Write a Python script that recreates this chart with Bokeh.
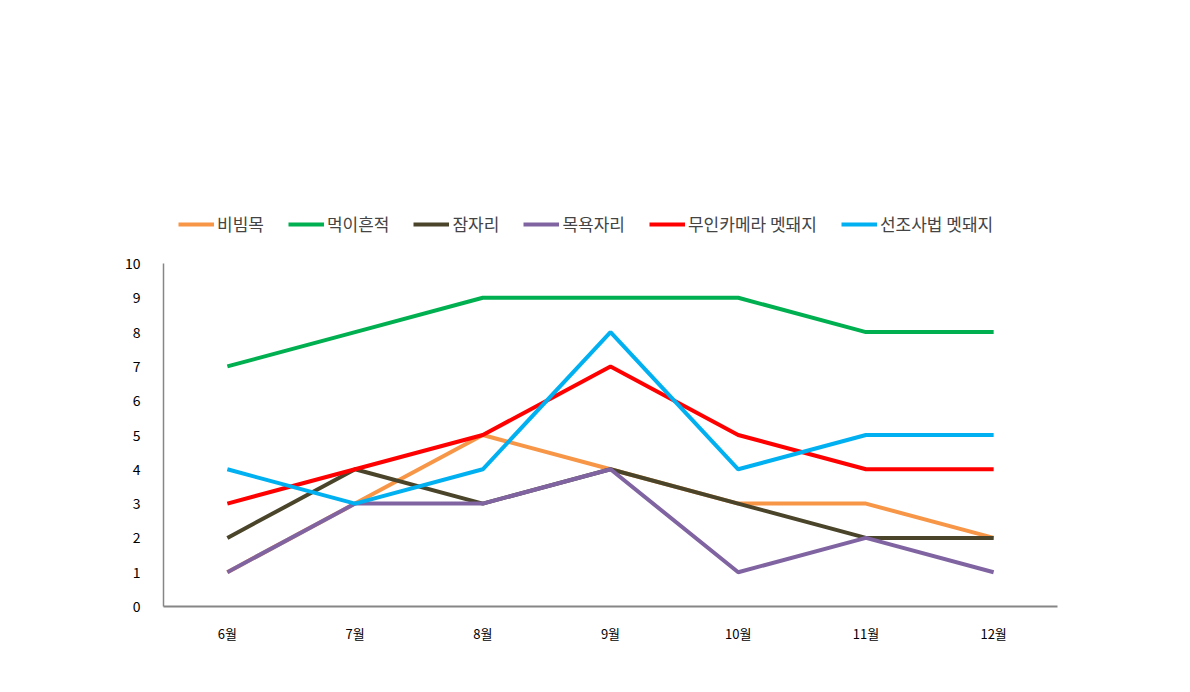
from bokeh.plotting import figure
from bokeh.models import Legend, LegendItem, FixedTicker, FactorRange, Range1d
from bokeh.embed import file_html
from bokeh.resources import INLINE

months = ["6월", "7월", "8월", "9월", "10월", "11월", "12월"]
series_names = ["비빔목", "먹이흔적", "잠자리", "목욕자리", "무인카메라 멧돼지", "선조사법 멧돼지"]
bibimmok = [1, 3, 5, 4, 3, 3, 2]
meogi = [7, 8, 9, 9, 9, 8, 8]
jamjari = [2, 4, 3, 4, 3, 2, 2]
mogyok = [1, 3, 3, 4, 1, 2, 1]
camera = [3, 4, 5, 7, 5, 4, 4]
seonjo = [4, 3, 4, 8, 4, 5, 5]
colors = ["#F79646", "#00B050", "#4A452A", "#8064A2", "#FF0000", "#00B0F0"]
y_ticks = list(range(0, 11))

W, H = 1174, 676
frame_top, frame_bottom = 190, 606   # screen pixels
axis_top = 263                       # where the value 10 sits
y_max = 10
y_end = y_max * (frame_bottom - frame_top) / (frame_bottom - axis_top)

p = figure(width=W, height=H, x_range=FactorRange(*months), y_range=Range1d(0, y_end),
           output_backend="svg", toolbar_location=None,
           min_border_left=163, min_border_right=W - 1057,
           min_border_top=frame_top, min_border_bottom=H - frame_bottom)
p.outline_line_color = None
p.xgrid.visible = False
p.ygrid.visible = False

font = "Noto Sans CJK KR"
p.yaxis.ticker = FixedTicker(ticks=y_ticks)
p.yaxis.bounds = (0, y_max)
p.yaxis.major_tick_line_color = None
p.yaxis.minor_tick_line_color = None
p.yaxis.axis_line_color = "#868686"
p.yaxis.axis_line_width = 1.5
p.yaxis.major_label_text_font = font
p.yaxis.major_label_text_font_size = "14px"
p.yaxis.major_label_text_color = "#000000"
p.yaxis.major_label_standoff = 17

p.xaxis.major_tick_line_color = None
p.xaxis.axis_line_color = "#868686"
p.xaxis.axis_line_width = 2
p.xaxis.major_label_text_font = font
p.xaxis.major_label_text_font_size = "13px"
p.xaxis.major_label_text_color = "#000000"
p.xaxis.major_label_standoff = 11

all_series = [bibimmok, meogi, jamjari, mogyok, camera, seonjo]
renderers = {}
for i in range(6):
    r = p.line(months, all_series[i], line_color=colors[i], line_width=4)
    renderers[i] = r

items = [LegendItem(label=series_names[i], renderers=[renderers[i]]) for i in range(6)]
legend = Legend(items=items, orientation="horizontal", location=(15, frame_bottom - 236),
                glyph_width=36, glyph_height=14, label_standoff=3, spacing=24,
                label_text_font=font, label_text_font_size="17px",
                label_height=20,
                background_fill_alpha=0, border_line_color=None,
                padding=0, margin=0)
p.add_layout(legend, "center")

open("out.html", "w").write(file_html(p, INLINE))
